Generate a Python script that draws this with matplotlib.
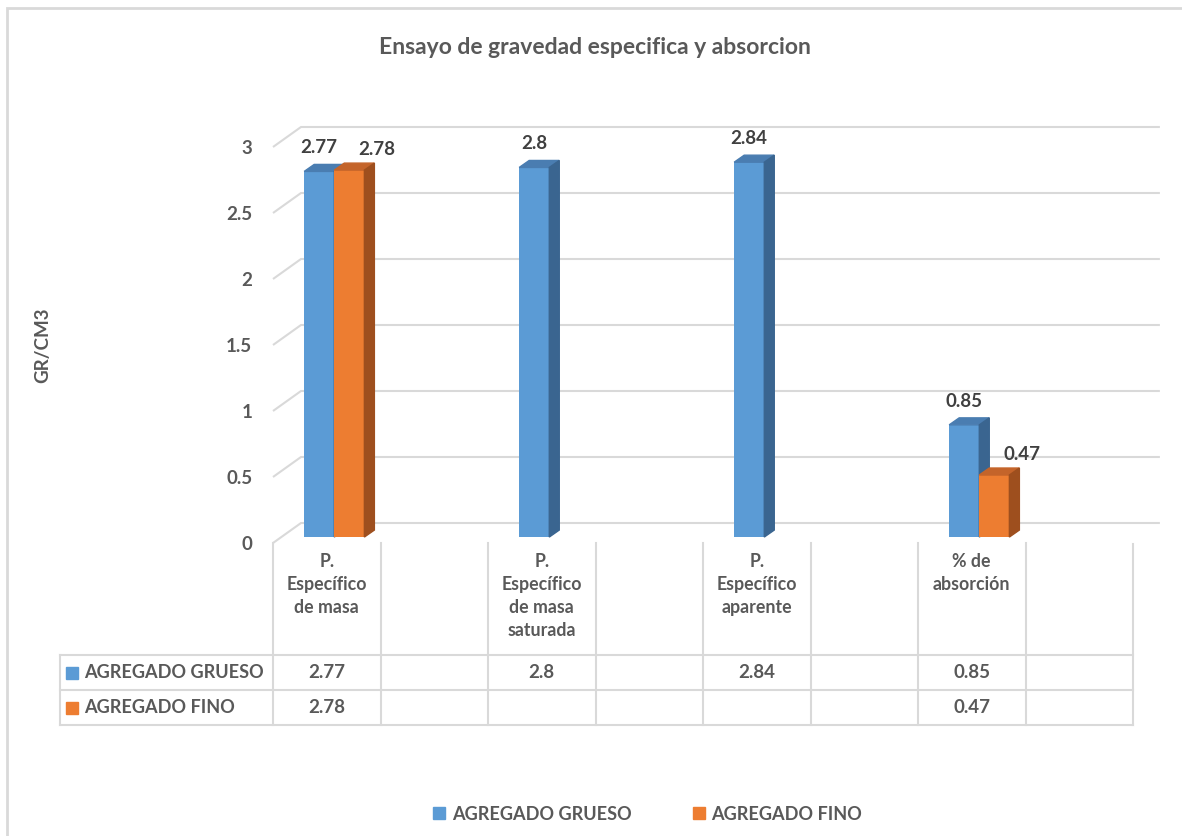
import numpy as np
import matplotlib.pyplot as plt
from matplotlib.patches import Polygon, Rectangle
from matplotlib.lines import Line2D

plt.rcParams['font.family'] = ['Lato', 'DejaVu Sans']
plt.rcParams['font.weight'] = 'bold'

# datos
categorias = ["P.\nEspecífico\nde masa", "", "P.\nEspecífico\nde masa\nsaturada", "",
              "P.\nEspecífico\naparente", "", "% de\nabsorción", ""]
grueso = [2.77, np.nan, 2.8, np.nan, 2.84, np.nan, 0.85, np.nan]
fino = [2.78, np.nan, np.nan, np.nan, np.nan, np.nan, 0.47, np.nan]
series = ["AGREGADO GRUESO", "AGREGADO FINO"]
marcas_y = [0, 0.5, 1, 1.5, 2, 2.5, 3]

GRIS = '#595959'
LINEA = '#D9D9D9'
colores = {
    "AGREGADO GRUESO": ('#5B9BD5', '#4A7DB1', '#3A6590'),  # frente, tapa, lado
    "AGREGADO FINO": ('#ED7D31', '#C4642A', '#9E4F1E'),
}

W, H = 1182, 836
fig = plt.figure(figsize=(W / 100, H / 100), dpi=100)


def caja(x0, y0, x1, y1):
    # caja en pixeles -> rect de figura
    return [x0 / W, 1 - y1 / H, (x1 - x0) / W, (y1 - y0) / H]


CAT_PX = 107.5  # ancho de categoria en pixeles
ax = fig.add_axes(caja(273, 147, 1133, 543))
ax.set_xlim(-0.5, 7.5)
ax.set_ylim(0, 3)
for s in ax.spines.values():
    s.set_visible(False)
ax.set_xticks([])
ax.set_yticks(marcas_y)
ax.set_yticklabels([f"{v:g}" for v in marcas_y], fontsize=13.5, color=GRIS)
ax.tick_params(axis='y', length=0, pad=15)

# pared del fondo (efecto 3D)
DX, DY = 28 / CAT_PX, 20 / 132
for v in marcas_y:
    ax.plot([-0.5, -0.5 + DX, 7.75], [v, v + DY, v + DY], color=LINEA, lw=1.5,
            zorder=1, clip_on=False, solid_capstyle='butt')

# barras
ancho = 0.28
base = 0.045
bdx, bdy = 10 / CAT_PX, 7 / 132
x = np.arange(len(categorias))
desplaz = {"AGREGADO GRUESO": -0.07, "AGREGADO FINO": 0.21}
etiq_off = {"AGREGADO GRUESO": (0, 17), "AGREGADO FINO": (20, 15)}
for nombre, vals in zip(series, [grueso, fino]):
    frente, tapa, lado = colores[nombre]
    v = np.array(vals, dtype=float)
    ok = ~np.isnan(v)
    ax.bar(x[ok] + desplaz[nombre], v[ok], width=ancho, bottom=base, color=frente,
           zorder=3, clip_on=False)
    for xi, vi in zip(x[ok], v[ok]):
        izq = xi + desplaz[nombre] - ancho / 2
        der = izq + ancho
        top = vi + base
        ax.add_patch(Polygon([(izq, top), (der, top), (der + bdx, top + bdy), (izq + bdx, top + bdy)],
                             closed=True, color=tapa, zorder=3, clip_on=False))
        ax.add_patch(Polygon([(der, base), (der, top), (der + bdx, top + bdy), (der + bdx, base + bdy)],
                             closed=True, color=lado, zorder=3, clip_on=False))
        ax.annotate(f"{vi:g}", (xi + desplaz[nombre], top), xytext=etiq_off[nombre],
                    textcoords='offset points', ha='center', va='center',
                    fontsize=13.5, color='#404040', annotation_clip=False)

# tabla de datos
tax = fig.add_axes(caja(60, 543, 1133, 725))
x_ini = -0.5 - 213 / CAT_PX
tax.set_xlim(x_ini, 7.5)
tax.set_ylim(182, 0)
tax.axis('off')
for i in range(len(categorias) + 1):
    y0 = 0 if i < len(categorias) else 1
    tax.plot([i - 0.5, i - 0.5], [y0, 182], color=LINEA, lw=1.5, clip_on=False)
tax.plot([x_ini, x_ini], [112, 182], color=LINEA, lw=1.5, clip_on=False)
for y in [112, 147, 182]:
    tax.plot([x_ini, 7.5], [y, y], color=LINEA, lw=1.5, clip_on=False)

for i, cat in enumerate(categorias):
    tax.text(i, 10, cat, ha='center', va='top', fontsize=12.8, linespacing=1.42, color=GRIS)

for fila, (nombre, vals) in enumerate(zip(series, [grueso, fino])):
    yc = 129.5 + 35 * fila
    tax.plot([x_ini + 12 / CAT_PX], [yc], marker='s', ms=8, color=colores[nombre][0], ls='')
    tax.text(x_ini + 24 / CAT_PX, yc, nombre, ha='left', va='center', fontsize=13.1, color=GRIS)
    for i, v in enumerate(vals):
        if not np.isnan(v):
            tax.text(i, yc, f"{v:g}", ha='center', va='center', fontsize=13.5, color=GRIS)

# titulo, eje y leyenda
fig.text(595 / W, 1 - 47 / H, "Ensayo de gravedad especifica y absorcion", ha='center', va='center',
         fontsize=16.5, color=GRIS)
fig.text(43 / W, 1 - 345 / H, "GR/CM3", rotation=90, ha='center', va='center', fontsize=13.5, color=GRIS)

manijas = [Line2D([], [], marker='s', ls='', ms=9, color=colores[n][0]) for n in series]
fig.legend(manijas, series, loc='center', bbox_to_anchor=(647 / W, 1 - 814 / H), ncol=2,
           frameon=False, handlelength=0.8, handletextpad=0.3, columnspacing=3.3,
           prop={'size': 13.1, 'weight': 'bold'}, labelcolor=GRIS)

fig.patches.append(Rectangle((7 / W, -0.1), 1.2, 1 - 8 / H + 0.1, transform=fig.transFigure,
                             fill=False, ec=LINEA, lw=2))

fig.savefig('out.png', dpi=100)
